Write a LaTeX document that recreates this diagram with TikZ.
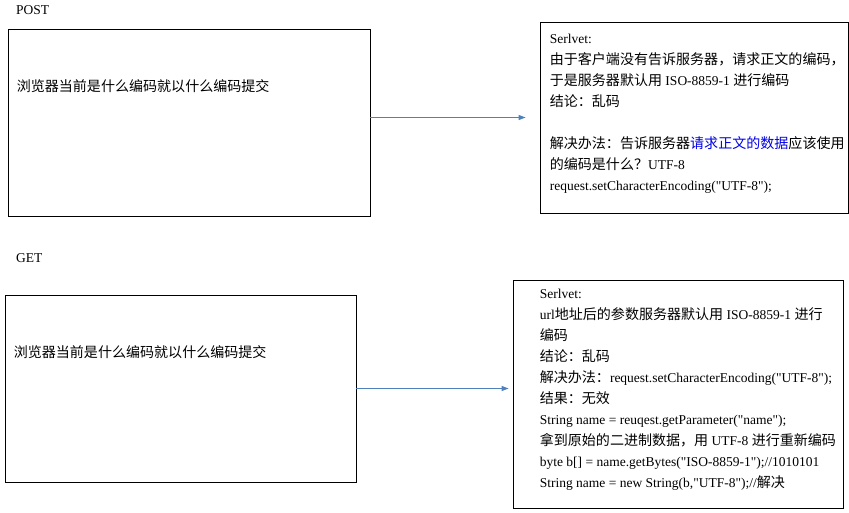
\documentclass[tikz,border=0pt]{standalone}
\usepackage{fontspec}
\usepackage{xcolor}
\usetikzlibrary{positioning, arrows.meta}
\setmainfont{Liberation Serif}[Ligatures=TeXOff]
\newfontfamily\cjk{Noto Sans CJK SC}[Scale=1.04]
\newcommand{\zh}[1]{{\cjk #1}}
\definecolor{flowblue}{RGB}{79, 129, 189}
\definecolor{linkblue}{RGB}{0, 0, 230}
\tikzset{
    reqbox/.style={draw, line width=0.8pt, inner sep=0pt},
    note/.style={inner sep=0pt, align=left, font=\fontsize{13.5}{21}\selectfont},
    method/.style={inner sep=0pt, anchor=west, font=\fontsize{13.5}{16}\selectfont},
    flow/.style={draw=flowblue, line width=0.9pt, -{Triangle[length=7pt, width=5pt]}}
}
\begin{document}
\begin{tikzpicture}[x=1pt, y=-1pt]
    \useasboundingbox (0,0) rectangle (849,513);

    % POST
    \node[method] (postlbl) at (16,10) {POST};
    \node[reqbox, minimum width=362pt, minimum height=187pt] (postbox) at (189,122.5) {};
    \node[note, below right=51pt and 9pt of postbox.north west] (posttxt)
        {\zh{浏览器当前是什么编码就以什么编码提交}};
    \node[reqbox, minimum width=308pt, minimum height=191pt] (postsrv) at (694,117.5) {};
    \node[note, below right=12pt and 10pt of postsrv.north west] (postsrvtxt)
        {Serlvet:\\
         \zh{由于客户端没有告诉服务器，请求正文的编码，}\\
         \zh{于是服务器默认用} ISO-8859-1 \zh{进行编码}\\
         \zh{结论：乱码}\\
         \mbox{}\\
         \zh{解决办法：告诉服务器}\textcolor{linkblue}{\zh{请求正文的数据}}\zh{应该使用}\\
         \zh{的编码是什么？}UTF-8\\
         request.setCharacterEncoding("UTF-8");};
    \draw[flow, shorten >=14pt] (postbox.east |- postsrv.west) -- (postsrv.west);

    % GET
    \node[method] (getlbl) at (16,258) {GET};
    \node[reqbox, minimum width=351pt, minimum height=187pt] (getbox) at (180.5,388.5) {};
    \node[note, below right=51pt and 9pt of getbox.north west] (gettxt)
        {\zh{浏览器当前是什么编码就以什么编码提交}};
    \node[reqbox, minimum width=330pt, minimum height=228pt] (getsrv) at (678,394) {};
    \node[note, below right=9pt and 27pt of getsrv.north west] (getsrvtxt)
        {Serlvet:\\
         url\zh{地址后的参数服务器默认用} ISO-8859-1 \zh{进行}\\
         \zh{编码}\\
         \zh{结论：乱码}\\
         \zh{解决办法：}request.setCharacterEncoding("UTF-8");\\
         \zh{结果：无效}\\
         String name = reuqest.getParameter("name");\\
         \zh{拿到原始的二进制数据，用} UTF-8 \zh{进行重新编码}\\
         byte b[] = name.getBytes("ISO-8859-1");//1010101\\
         String name = new String(b,"UTF-8");//\zh{解决}};
    \draw[flow, shorten >=4pt] (getbox.east) -- (getbox.east -| getsrv.west);
\end{tikzpicture}
\end{document}
